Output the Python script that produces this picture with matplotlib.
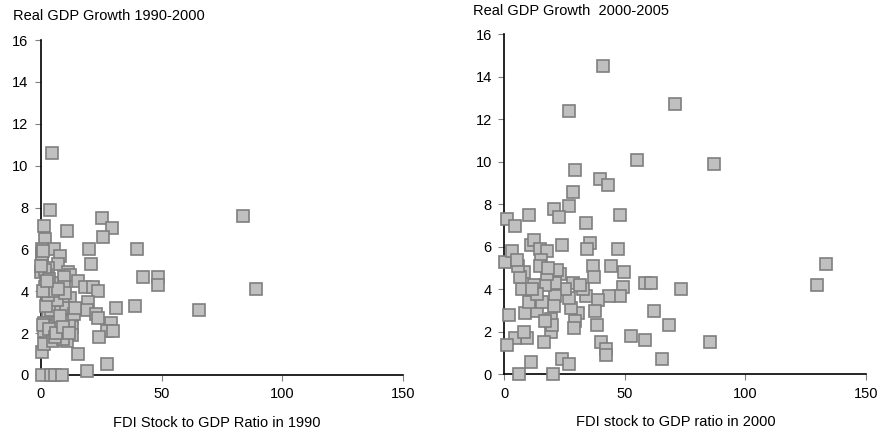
import matplotlib.pyplot as plt

plt.rcParams['font.family'] = ['Liberation Sans', 'DejaVu Sans']

# left panel: FDI stock/GDP 1990 vs real GDP growth 1990-2000
fdi_1990 = [4.4, 3.9, 1.2, 1.7, 0.5, 5.4, 10.6, 25.4, 29.3, 25.8, 20.0, 20.9, 39.8, 42.3,
            48.6, 48.6, 83.8, 89.0, 65.4, 39.1, 31.1, 29.0, 27.3, 30.0, 24.2, 27.3, 19.2,
            15.2, 0.3, 1.2, 1.2, 3.0, 1.2, 5.1, 7.6, 12.7, 12.7, 13.0, 10.6, 9.0, 5.8,
            4.0, 0.4, 7.9, 6.9, 3.0, 0.1, 2.1, 11.0, 12.0, 9.5, 15.2, 18.4, 21.4, 23.8,
            9.7, 1.7, 2.4, 12.0, 19.6, 9.0, 18.9, 23.0, 23.8, 8.5, 10.5, 6.5, 4.5,
            2.0, 0.8, 7.0, 11.5, 13.5, 3.5, 6.0, 8.0, 0.6, 2.8, 5.0, 10.0, 14.0,
            0.3, 4.0, 5.8, 8.8, 1.5, 3.2, 6.2, 9.2, 11.8, 1.0, 7.2, 0.2, 1.0, 2.5]
gdp_1990 = [10.6, 7.9, 7.1, 6.5, 6.0, 6.0, 6.9, 7.5, 7.0, 6.6, 6.0, 5.3, 6.0, 4.7,
            4.7, 4.3, 7.6, 4.1, 3.1, 3.3, 3.2, 2.5, 2.1, 2.1, 1.8, 0.5, 0.2,
            1.0, 1.1, 1.5, 2.1, 2.9, 2.5, 1.6, 2.1, 2.7, 2.3, 1.9, 1.6, 1.7, 2.2,
            3.1, 5.5, 5.7, 5.3, 5.1, 4.9, 4.8, 4.9, 4.8, 4.7, 4.5, 4.2, 4.2, 4.0,
            4.2, 4.2, 3.8, 3.7, 3.5, 3.4, 3.1, 2.9, 2.7, 3.0, 3.2, 3.6, 4.4,
            3.3, 2.4, 2.5, 2.6, 2.9, 2.2, 1.8, 2.8, 5.8, 3.8, 4.0, 3.9, 3.2,
            0.0, 0.0, 0.0, 0.0, 5.0, 4.6, 2.0, 2.3, 2.0, 4.0, 4.1, 5.2, 5.9, 4.5]

# right panel: FDI stock/GDP 2000 vs real GDP growth 2000-2005
fdi_2000 = [40.8, 70.9, 26.7, 55.0, 87.1, 29.4, 39.7, 43.1, 28.6, 20.7, 27.0, 22.7, 10.1,
            48.1, 1.2, 4.3, 33.9, 133.4, 129.7, 73.4, 58.3, 60.8, 62.2, 68.4, 85.3, 65.4,
            58.2, 52.5, 47.3, 49.8, 49.2, 48.1, 44.4, 43.4, 36.9, 37.2, 35.4, 34.3, 33.9,
            38.9, 37.6, 38.3, 40.2, 42.2, 42.2, 24.1, 28.6, 32.8, 30.5, 29.3, 28.9, 27.6,
            26.7, 25.0, 23.2, 22.0, 21.2, 21.2, 20.5, 19.4, 19.4, 19.8, 24.1, 27.0, 20.2,
            5.9, 11.1, 16.5, 9.5, 4.6, 8.2, 1.0, 1.8, 8.6, 13.4, 10.4, 15.5, 17.0,
            17.0, 17.8, 12.3, 7.3, 8.2, 6.5, 5.7, 0.4, 3.3, 5.4, 11.2, 12.3, 14.8,
            17.6, 15.2, 14.9, 18.2, 13.4, 11.3, 31.5]
gdp_2000 = [14.5, 12.7, 12.4, 10.1, 9.9, 9.6, 9.2, 8.9, 8.6, 7.8, 7.9, 7.4, 7.5,
            7.5, 7.3, 7.0, 7.1, 5.2, 4.2, 4.0, 4.3, 4.3, 3.0, 2.3, 1.5, 0.7,
            1.6, 1.8, 5.9, 4.8, 4.1, 3.7, 5.1, 3.7, 5.1, 4.6, 6.2, 5.9, 3.7,
            3.5, 3.0, 2.3, 1.5, 1.2, 0.9, 6.1, 4.3, 4.0, 2.9, 2.5, 2.2, 3.1,
            3.6, 4.0, 4.7, 4.9, 4.3, 3.7, 3.2, 2.6, 2.0, 2.3, 0.7, 0.5, 0.0,
            0.0, 0.6, 1.5, 1.7, 1.7, 2.0, 1.4, 2.8, 2.9, 3.0, 3.4, 3.4, 2.5,
            4.2, 4.7, 4.2, 4.0, 4.8, 4.6, 5.1, 5.3, 5.8, 5.4, 6.1, 6.3, 5.9,
            5.8, 5.4, 5.1, 5.0, 3.8, 4.0, 4.2]

fig = plt.figure(figsize=(8.81, 4.36), dpi=100)
ax1 = fig.add_axes([0.0465, 0.140, 0.411, 0.768])
ax2 = fig.add_axes([0.5724, 0.1415, 0.4106, 0.780])

for ax, x, y in [(ax1, fdi_1990, gdp_1990), (ax2, fdi_2000, gdp_2000)]:
    ax.plot(x, y, 's', ms=8, mfc='#c0c0c0', mec='#7f7f7f', mew=1.2,
            clip_on=False, zorder=3)
    ax.set_xlim(0, 150)
    ax.set_ylim(0, 16)
    ax.set_xticks([0, 50, 100, 150])
    ax.set_yticks(range(0, 17, 2))
    ax.spines['top'].set_visible(False)
    ax.spines['right'].set_visible(False)
    ax.spines['left'].set_linewidth(1.2)
    ax.spines['bottom'].set_linewidth(1.2)
    ax.tick_params(length=4, width=0.8, color='#808080', labelsize=10.5, pad=5)

fig.text(13 / 881, 1 - 16 / 436, 'Real GDP Growth 1990-2000', fontsize=10.5, va='center')
fig.text(473 / 881, 1 - 11 / 436, 'Real GDP Growth  2000-2005', fontsize=10.5, va='center')
fig.text(217 / 881, 1 - 423 / 436, 'FDI Stock to GDP Ratio in 1990', fontsize=10.5,
         ha='center', va='center')
fig.text(676 / 881, 1 - 422 / 436, 'FDI stock to GDP ratio in 2000', fontsize=10.5,
         ha='center', va='center')

fig.savefig('out.png', dpi=100)
